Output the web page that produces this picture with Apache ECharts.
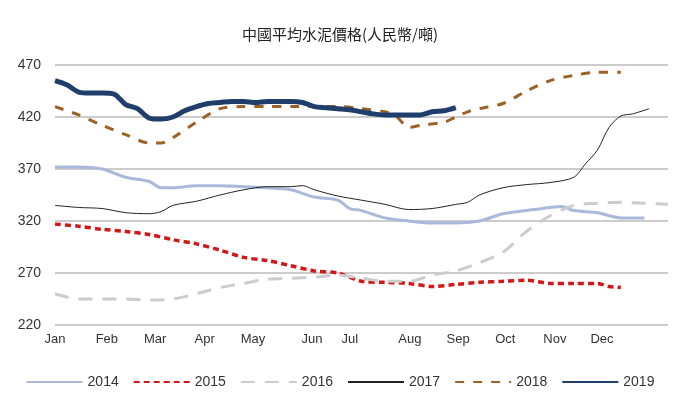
<!DOCTYPE html>
<html><head><meta charset="utf-8">
<script src="https://cdn.jsdelivr.net/npm/echarts@6/dist/echarts.min.js"></script>
<style>html,body{margin:0;background:#fff}#c{width:680px;height:400px}</style>
</head><body><div id="c"></div>
<script>
const monthLabels=['Jan','Feb','Mar','Apr','May','Jun','Jul','Aug','Sep','Oct','Nov','Dec'];
const monthWeeks=[0,4.4,8.5,12.7,16.8,21.8,25,30.1,34.2,38.2,42.4,46.4];
const yTicks=[220,270,320,370,420,470];
const s2014=[[0,372],[2,372],[4,370],[6,362],[8,358],[9,352],[10,352],[12,354],[14,354],[16,353],[18,352],[20,350],[22,343],[24,340],[25,332],[26,330],[28,323],[30,320],[32,318],[34,318],[36,320],[38,327],[40,330],[42,333],[43,334],[44,330],[46,328],[48,323],[50,323]];
const s2015=[[0,317],[2,315],[4,312],[6,310],[8,307],[10,302],[12,298],[14,292],[16,285],[18,282],[20,277],[22,272],[24,270],[26,262],[28,261],[30,260],[32,257],[34,259],[36,261],[38,262],[40,263],[42,260],[44,260],[46,260],[47,257],[48,256]];
const s2016=[[0,250],[2,245],[4,245],[6,245],[8,244],[10,245],[12,250],[14,256],[16,260],[18,264],[20,265],[22,266],[24,268],[26,265],[28,262],[30,262],[32,268],[34,272],[36,280],[38,290],[40,310],[42,325],[44,335],[46,337],[48,338],[50,337],[52,336]];
const s2017=[[0,335],[2,333],[4,332],[6,328],[8,327],[9,329],[10,335],[12,339],[14,345],[16,350],[18,353],[20,353],[21,354],[22,350],[24,344],[26,340],[28,336],[30,331],[32,332],[34,336],[35,338],[36,345],[38,352],[40,355],[42,357],[44,362],[45,375],[46,388],[47,410],[48,421],[49,423],[50.4,428]];
const s2018=[[0,430],[2,422],[4,412],[6,403],[8,395],[9,395],[10,400],[12,415],[14,428],[16,430],[18,430],[20,430],[22,430],[24,430],[26,428],[28,425],[29,420],[30,410],[31,412],[33,415],[34,420],[35,425],[36,428],[38,433],[40,445],[42,455],[44,460],[46,463],[48,463]];
const s2019=[[0,455],[1,451],[2,444],[3,443],[4,443],[5,442],[6,432],[7,428],[8,419],[9,418],[10,420],[11,426],[12,430],[13,433],[14,434],[15,435],[16,435],[17,434],[18,435],[19,435],[20,435],[21,434],[22,430],[23,429],[24,428],[25,427],[26,425],[27,423],[28,422],[29,422],[30,422],[31,422],[32,425],[33,426],[34,429]];
const names=['2014','2015','2016','2017','2018','2019'];
const styles=[
 {color:'#aab8da',width:3,type:'solid'},
 {color:'#d01818',width:3.5,type:[6,4]},
 {color:'#cccccc',width:3,type:[14,10]},
 {color:'#222222',width:1,type:'solid'},
 {color:'#9c6225',width:3,type:[9,9]},
 {color:'#1f3e6c',width:5,type:'solid'}];
const datas=[s2014,s2015,s2016,s2017,s2018,s2019];
const chart=echarts.init(document.getElementById('c'));
chart.setOption({
 animation:false,
 title:{text:'中國平均水泥價格(人民幣/噸)',left:'center',top:22,textStyle:{fontSize:15,fontWeight:'normal',color:'#222',fontFamily:'Noto Sans CJK TC'}},
 grid:{left:55,right:12,top:65,bottom:75},
 legend:{bottom:6,itemWidth:56,itemGap:14,itemStyle:{opacity:0},textStyle:{fontSize:14,color:'#333',fontFamily:'Liberation Sans'},data:names},
 xAxis:{type:'value',min:0,max:52,axisLine:{show:false},axisTick:{show:false},splitLine:{show:false},
  axisLabel:{customValues:monthWeeks,formatter:v=>{const i=monthWeeks.indexOf(v);return i>=0?monthLabels[i]:'';},fontSize:13,color:'#333',fontFamily:'Liberation Sans'}},
 yAxis:{type:'value',min:220,max:470,interval:50,axisLine:{show:false},axisTick:{show:false},
  axisLabel:{fontSize:14,color:'#333',fontFamily:'Liberation Sans',margin:14},splitLine:{lineStyle:{color:'#bbbbbb',width:1.5}}},
 series:names.map((n,i)=>({name:n,type:'line',data:datas[i],showSymbol:false,symbol:'none',smooth:0.3,lineStyle:styles[i],itemStyle:{color:styles[i].color},z:i}))
});
</script></body></html>
